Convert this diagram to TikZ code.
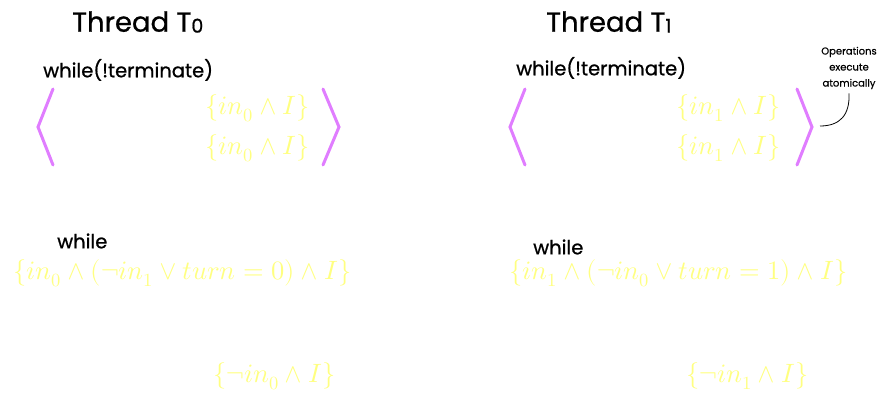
\documentclass[tikz,border=0pt]{standalone}
\usepackage{fontspec}
\setmainfont{Poppins}
\usepackage{unicode-math}
\setmathfont{Latin Modern Math}
\definecolor{brk}{HTML}{E07DFF}
\definecolor{ylw}{HTML}{FFFF80}
\tikzset{
  ttl/.style={inner sep=0pt, font=\fontsize{27.5}{30}\selectfont\addfontfeature{FakeBold=0.8}},
  code/.style={inner sep=0pt, font=\fontsize{19.5}{22}\selectfont\addfontfeature{FakeBold=0.8}},
  assn/.style={inner sep=0pt, text=ylw, font=\fontsize{26.5}{30}\selectfont},
  note/.style={inner sep=0pt, align=center, font=\fontsize{10}{16}\selectfont\addfontfeature{FakeBold=0.5}},
  brack/.style={draw=brk, line width=3pt, line cap=round, line join=miter},
}
\begin{document}
\begin{tikzpicture}[x=1pt,y=-1pt]
\useasboundingbox (0,0) rectangle (879,393);
% titles
\node[ttl, anchor=west] (t0) at (72,22) {Thread T\raisebox{-1pt}{\fontsize{19}{20}\selectfont 0}};
\node[ttl, anchor=west] (t1) at (546,22) {Thread T\raisebox{-1pt}{\fontsize{19}{20}\selectfont 1}};
% while(!terminate)
\node[code, anchor=west] (w0) at (43,70) {while(!terminate)};
\node[code, anchor=west] (w1) at (516,68) {while(!terminate)};
% brackets
\coordinate (l0a) at (53,89); \coordinate (l0b) at (38,127); \coordinate (l0c) at (53,165);
\coordinate (r0a) at (323,89); \coordinate (r0b) at (339,127); \coordinate (r0c) at (323,165);
\coordinate (l1a) at (525,89); \coordinate (l1b) at (510,127); \coordinate (l1c) at (525,165);
\coordinate (r1a) at (797,89); \coordinate (r1b) at (812,127); \coordinate (r1c) at (797,165);
\draw[brack] (l0a) -- (l0b) -- (l0c);
\draw[brack] (r0a) -- (r0b) -- (r0c);
\draw[brack] (l1a) -- (l1b) -- (l1c);
\draw[brack] (r1a) -- (r1b) -- (r1c);
% assertions inside
\node[assn, anchor=east] (a0) at (310,108) {$\{in_0 \wedge I\}$};
\node[assn, anchor=east] (b0) at (310,148) {$\{in_0 \wedge I\}$};
\node[assn, anchor=east] (a1) at (781,108) {$\{in_1 \wedge I\}$};
\node[assn, anchor=east] (b1) at (781,148) {$\{in_1 \wedge I\}$};
% note
\node[note] (nt) at (849,68) {Operations\\execute\\atomically};
\coordinate (ne) at (820,126);
\draw[line width=0.8pt] (nt.south) ++(0,4) coordinate (ns) .. controls (850,115) and (840,126) .. (ne);
% while
\node[code, anchor=west] (wh0) at (57,241) {while};
\node[code, anchor=west] (wh1) at (533,247) {while};
\node[assn, anchor=west] (c0) at (13,273) {$\{in_0 \wedge (\neg in_1 \vee turn = 0) \wedge I\}$};
\node[assn, anchor=west] (c1) at (509,273) {$\{in_1 \wedge (\neg in_0 \vee turn = 1) \wedge I\}$};
\node[assn, anchor=west] (d0) at (213,376) {$\{\neg in_0 \wedge I\}$};
\node[assn, anchor=west] (d1) at (686,376) {$\{\neg in_1 \wedge I\}$};
\end{tikzpicture}
\end{document}
